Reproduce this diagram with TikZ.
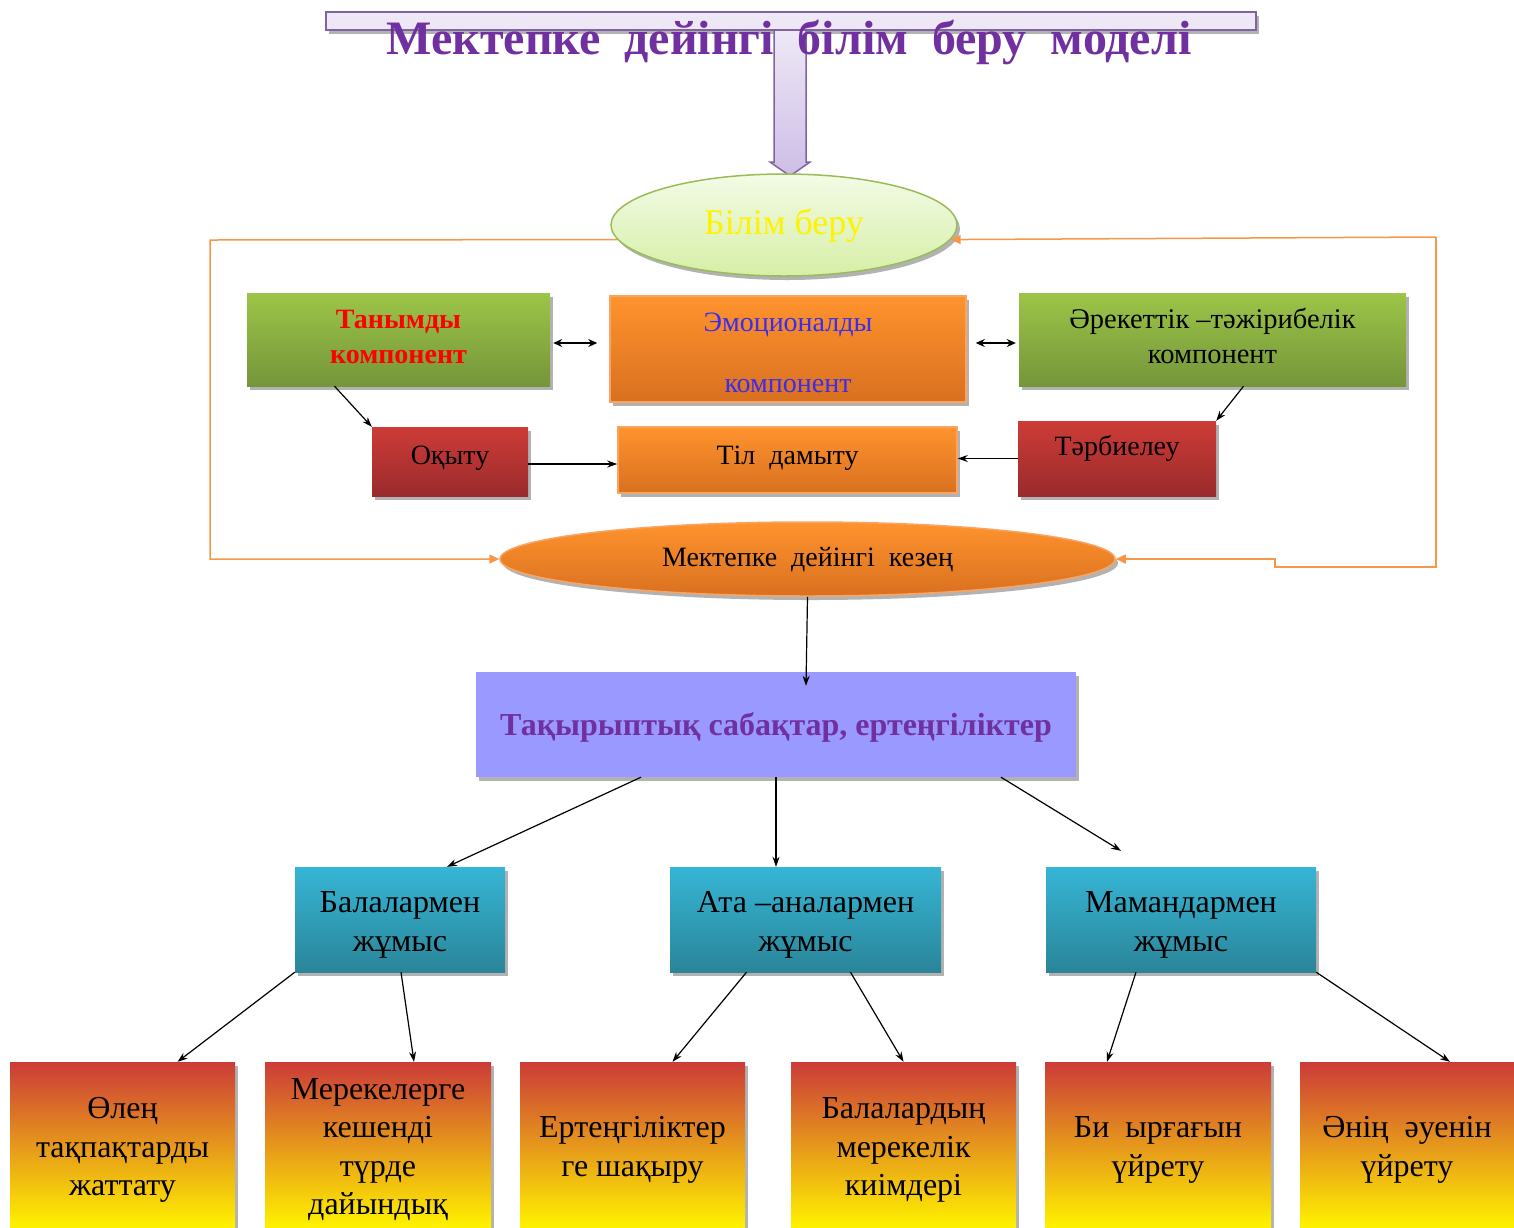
\documentclass[tikz,border=0pt]{standalone}
\usepackage{fontspec}
\setmainfont{Liberation Serif}
\usetikzlibrary{shapes.geometric,arrows.meta,shadows}
\definecolor{ttl}{HTML}{7030A0}
\definecolor{barfill}{HTML}{EEE8F6}
\definecolor{barline}{HTML}{8064A2}
\definecolor{stembot}{HTML}{CDBDE6}
\definecolor{gtop}{HTML}{9CC548}
\definecolor{gbot}{HTML}{75953A}
\definecolor{otop}{HTML}{FF932E}
\definecolor{obot}{HTML}{D9701F}
\definecolor{oline}{HTML}{F9A460}
\definecolor{rtop}{HTML}{CD3C37}
\definecolor{rbot}{HTML}{9A2A2C}
\definecolor{ttop}{HTML}{36B5D5}
\definecolor{tbot}{HTML}{2A8599}
\definecolor{byel}{HTML}{FFF200}
\definecolor{bmid}{HTML}{DE7E27}
\definecolor{bred}{HTML}{CC3B38}
\definecolor{lav}{HTML}{9999FF}
\definecolor{loop}{HTML}{F79646}
\definecolor{eltop}{HTML}{F3FBE6}
\definecolor{elbot}{HTML}{D6EFA6}
\definecolor{elline}{HTML}{9BBB59}
\definecolor{emblue}{HTML}{3A2CF0}
% multi-line text block shifted vertically without changing its size
\newcommand{\mltext}[2]{\raisebox{#1}[\height][\depth]{\begin{tabular}{@{}c@{}}#2\end{tabular}}}
\tikzset{
  shad/.style={drop shadow={shadow xshift=3pt,shadow yshift=-4pt,opacity=0.3,fill=black}},
  box/.style={rectangle,inner sep=0pt,align=center,shad,font=\fontsize{28}{35}\selectfont},
  greenbox/.style={box,top color=gtop,bottom color=gbot},
  orangebox/.style={box,top color=otop,bottom color=obot,draw=oline,line width=1.5pt},
  redbox/.style={box,top color=rtop,bottom color=rbot},
  tealbox/.style={box,top color=ttop,bottom color=tbot,font=\fontsize{32}{38.5}\selectfont},
  lowbox/.style={box,top color=bred,middle color=bmid,bottom color=byel,minimum height=165pt,font=\fontsize{32}{38.5}\selectfont},
  arr/.style={-{Stealth[length=10pt,width=7pt]},line width=1.2pt,black},
  darr/.style={{Stealth[length=9pt,width=8pt]}-{Stealth[length=9pt,width=8pt]},line width=1.8pt,black},
  looparr/.style={line width=1.5pt,draw=loop},
  looptip/.style={-{Triangle[length=10pt,width=9pt]}}
}
\begin{document}
\begin{tikzpicture}[x=1pt,y=-1pt]
\useasboundingbox (0,0) rectangle (1514,1227);
% title bar and stem arrow
\node[rectangle,draw=barline,fill=barfill,line width=2pt,minimum width=930pt,minimum height=18pt,inner sep=0pt,shad] (bar) at (791,21) {};
\path[draw=barline,line width=1.5pt,top color=barfill,bottom color=stembot]
  (774,30) -- (774,162) -- (770,162) -- (790,176) -- (810,162) -- (806,162) -- (806,30) -- cycle;
\node[text=ttl,font=\bfseries\fontsize{48}{50}\selectfont,inner sep=0pt] (title) at (789,42) {Мектепке\ \ дейінгі\ \ білім\ \ беру\ \ моделі};
% ellipses
\node[ellipse,inner sep=0pt,minimum width=346pt,minimum height=102pt,top color=eltop,bottom color=elbot,draw=elline,line width=1.5pt,shad,text=yellow,font=\fontsize{36}{40}\selectfont] (bilim) at (784,225) {Білім беру};
% middle row
\node[greenbox,minimum width=303pt,minimum height=93pt,text=red,font=\bfseries\fontsize{28}{35}\selectfont] (tanym) at (398.5,339.5) {\mltext{1pt}{Танымды\\компонент}};
\node[orangebox,minimum width=356pt,minimum height=106pt,text=emblue] (emoc) at (788,349) {\mltext{-6pt}{Эмоционалды\\[26pt]компонент}};
\node[greenbox,minimum width=387pt,minimum height=93pt,font=\fontsize{28.5}{35}\selectfont] (arek) at (1212.5,339.5) {\mltext{1pt}{Әрекеттік –тәжірибелік\\компонент}};
\node[redbox,minimum width=156pt,minimum height=69pt] (oqytu) at (450,461.5) {\raisebox{3pt}[\height][\depth]{Оқыту}};
\node[orangebox,minimum width=339pt,minimum height=66pt] (til) at (787.5,460) {\raisebox{2pt}[\height][\depth]{Тіл\ \ дамыту}};
\node[redbox,minimum width=198pt,minimum height=75pt] (tarb) at (1117,458.5) {\raisebox{10pt}[\height][\depth]{Тәрбиелеу}};
\node[ellipse,inner sep=0pt,minimum width=615pt,minimum height=74pt,top color=otop,bottom color=obot,draw=oline,line width=1.5pt,shad,font=\fontsize{28}{35}\selectfont] (mek) at (807.5,559) {\raisebox{-1pt}[\height][\depth]{Мектепке\ \ дейінгі\ \ кезең}};
% themed lessons
\node[box,fill=lav,minimum width=600pt,minimum height=105pt,text=ttl,font=\bfseries\fontsize{32}{36}\selectfont] (taq) at (776,724.5) {\raisebox{-3pt}[\height][\depth]{Тақырыптық сабақтар, ертеңгіліктер}};
% teal boxes
\node[tealbox,minimum width=210pt,minimum height=105pt] (bal) at (400,919.5) {\mltext{-5pt}{Балалармен\\жұмыс}};
\node[tealbox,minimum width=271pt,minimum height=105pt] (ata) at (805.5,919.5) {\mltext{-5pt}{Ата –аналармен\\жұмыс}};
\node[tealbox,minimum width=270pt,minimum height=105pt] (mam) at (1181,919.5) {\mltext{-5pt}{Мамандармен\\жұмыс}};
% bottom boxes
\node[lowbox,minimum width=225pt] (b1) at (122.5,1144.5) {\mltext{-5pt}{Өлең\\тақпақтарды\\жаттату}};
\node[lowbox,minimum width=226pt] (b2) at (378,1144.5) {\mltext{-5pt}{Мерекелерге\\кешенді\\түрде\\дайындық}};
\node[lowbox,minimum width=225pt] (b3) at (632.5,1144.5) {\mltext{-5pt}{Ертеңгіліктер\\ге шақыру}};
\node[lowbox,minimum width=225pt] (b4) at (903.5,1144.5) {\mltext{-5pt}{Балалардың\\мерекелік\\киімдері}};
\node[lowbox,minimum width=226pt] (b5) at (1158,1144.5) {\mltext{-5pt}{Би\ \ ырғағын\\үйрету}};
\node[lowbox,minimum width=214pt] (b6) at (1407,1144.5) {\mltext{-5pt}{Әнің\ \ әуенін\\үйрету}};
% orange loops
\coordinate (lt) at (210,240);
\coordinate (rt) at (1436,237);
\coordinate (rb) at (1436,567);
\coordinate (rs) at (1275,567);
\draw[looparr,looptip] (bilim.185) -- (lt) |- (mek.west);
\draw[looparr,looptip] (rt) -- (bilim.-5);
\draw[looparr,looptip] (rt) -- (rb) -- (rs) |- (mek.east);
% black connectors
\draw[darr] ([xshift=3pt,yshift=-3.5pt]tanym.east) -- ([xshift=-12pt,yshift=-3.5pt]emoc.west |- tanym.east);
\draw[darr] ([xshift=9pt,yshift=-3.5pt]emoc.east |- arek.west) -- ([xshift=-3pt,yshift=-3.5pt]arek.west);
\draw[arr] ([xshift=-64pt]tanym.south) -- (oqytu.north west);
\draw[arr] ([xshift=31pt]arek.south) -- (tarb.north east);
\draw[arr] (oqytu.east |- 0,464) -- (til.west |- 0,464);
\draw[arr] (tarb.west) -- (til.east |- tarb.west);
\draw[arr] (mek.south) -- ([xshift=30pt,yshift=-14pt]taq.north);
\draw[arr] ([xshift=-135pt]taq.south) -- ([xshift=47pt]bal.north);
\draw[arr] (taq.south) -- (ata.north -| taq.south);
\draw[arr] ([xshift=225pt]taq.south) -- ([xshift=-60pt,yshift=16pt]mam.north);
\draw[arr] (bal.south west) -- ([xshift=55pt]b1.north);
\draw[arr] ([xshift=1pt]bal.south) -- ([xshift=36pt]b2.north);
\draw[arr] ([xshift=-59pt]ata.south) -- ([xshift=40pt]b3.north);
\draw[arr] ([xshift=45pt]ata.south) -- (b4.north);
\draw[arr] ([xshift=-45pt]mam.south) -- ([xshift=-51pt]b5.north);
\draw[arr] (mam.south east) -- ([xshift=43pt]b6.north);
\end{tikzpicture}
\end{document}
